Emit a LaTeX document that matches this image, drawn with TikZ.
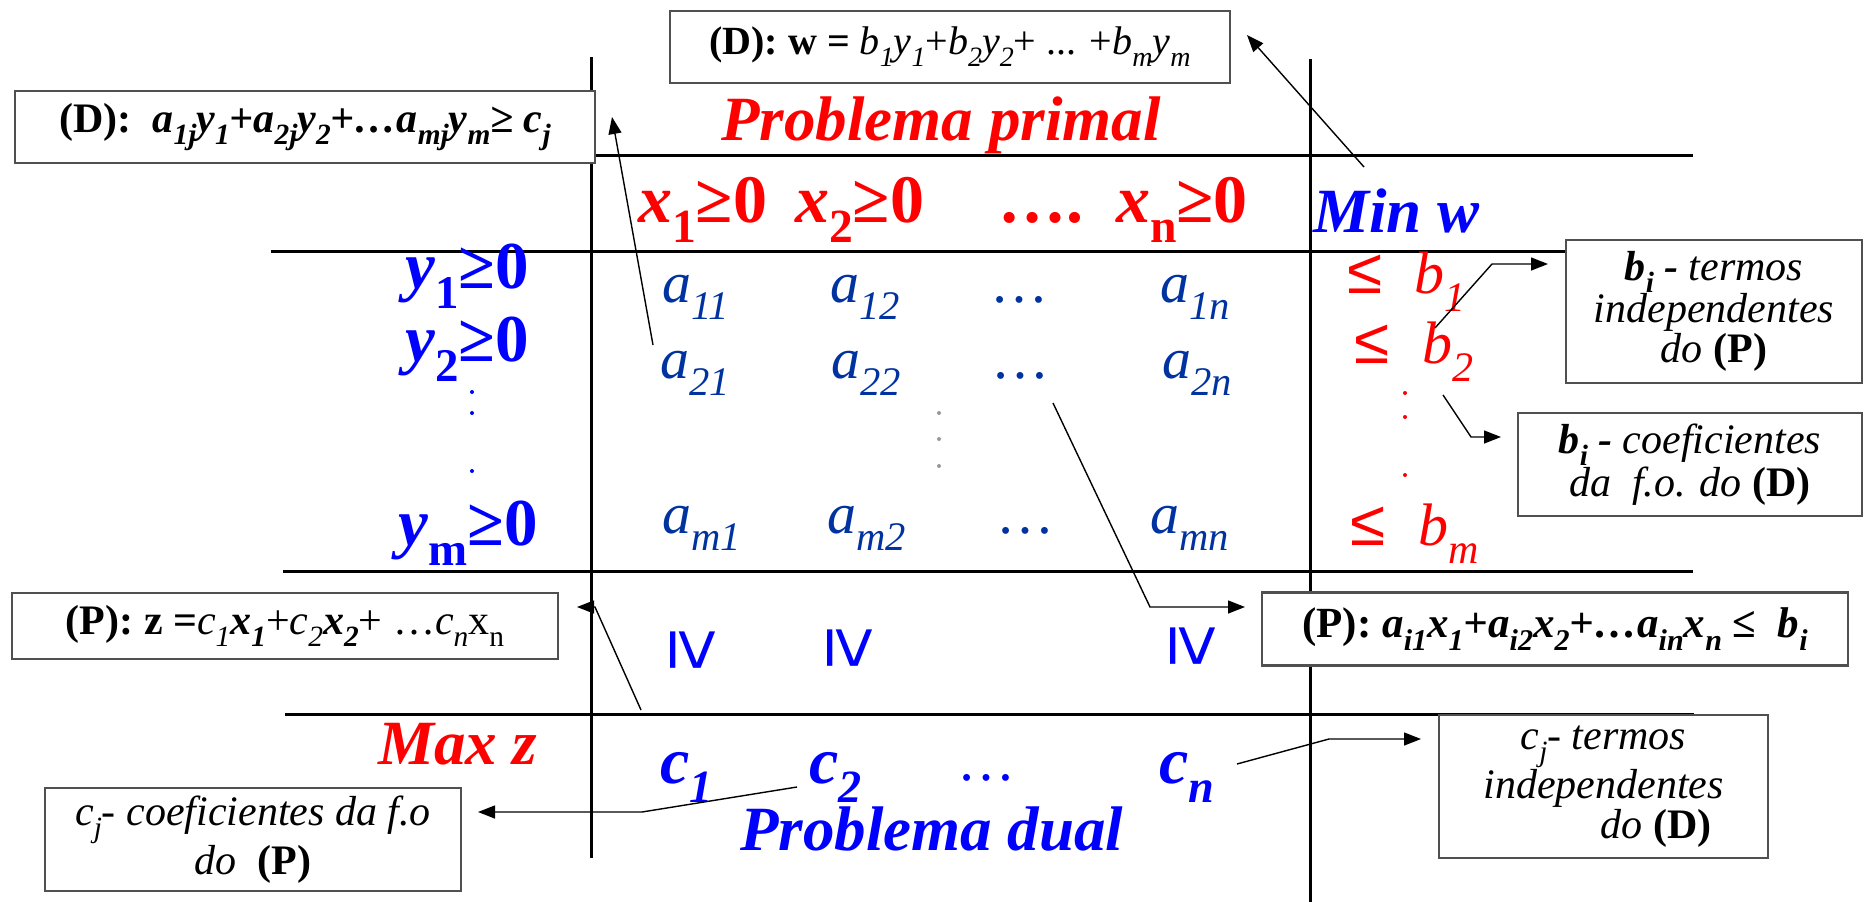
\documentclass[tikz,border=0pt]{standalone}
\usepackage{fontspec}
\setmainfont{LiberationSerif}[Extension=.ttf,UprightFont=*-Regular,ItalicFont=*-Italic,BoldFont=*-Bold,BoldItalicFont=*-BoldItalic]
\newfontfamily\sansf{Liberation Sans}
\usetikzlibrary{arrows.meta}
\definecolor{pr}{RGB}{255,0,0}
\definecolor{pb}{RGB}{0,0,255}
\definecolor{pa}{RGB}{0,51,160}
\definecolor{bx}{RGB}{80,80,80}
\newcommand\lo[1]{\raisebox{-0.3em}{\scalebox{0.7}{#1}}}
\newcommand\fs[1]{\fontsize{#1}{#1}\selectfont}
\begin{document}
\begin{tikzpicture}[x=1pt,y=-1pt,
  gridline/.style={line width=3pt,black},
  conn/.style={line width=1.4pt,black,-{Triangle[length=17pt,width=13pt]}},
  lbl/.style={inner sep=0pt,outer sep=0pt,anchor=base west},
  bigr/.style={lbl,text=pr,font=\fs{63}\bfseries\itshape},
  bigb/.style={lbl,text=pb,font=\fs{63}\bfseries\itshape},
  hdr/.style={lbl,text=pr,font=\fs{68}\bfseries},
  ylab/.style={inner sep=0pt,anchor=base,text=pb,font=\fs{67}\bfseries},
  aent/.style={lbl,text=pa,font=\fs{58}\itshape},
  adot/.style={lbl,text=pa,font=\fs{58}},
  leq/.style={lbl,text=pr,font=\sansf\fs{64}},
  bent/.style={lbl,text=pr,font=\fs{60}\itshape},
  cent/.style={lbl,text=pb,font=\fs{66}\bfseries\itshape},
  geqrot/.style={inner sep=0pt,rotate=-90,text=pb,font=\sansf\fs{75}},
  infobox/.style={draw=bx,line width=2.2pt,inner sep=0pt,align=center,fill=white,
    font=\fontsize{42}{40}\selectfont},
  eqbox/.style={draw=bx,line width=2.2pt,inner sep=0pt,align=center,fill=white,
    font=\fs{40}},
  vdot/.style={circle,inner sep=0pt,minimum size=4pt}
]
\useasboundingbox (0,0) rectangle (1864,902);

% grid lines
\draw[gridline] (591,57) -- (591,858);
\draw[gridline] (1310,59) -- (1310,902);
\draw[gridline] (591,155) -- (1693,155);
\draw[gridline] (271,251) -- (1566,251);
\draw[gridline] (283,571) -- (1693,571);
\draw[gridline] (285,714) -- (1694,714);

% boxes
\node[eqbox,minimum width=560pt,minimum height=72pt] (topbox) at (950,47)
  {{\bfseries (D): w =} {\itshape b\lo{1}y\lo{1}}+{\itshape b\lo{2}y\lo{2}}+ ... +{\itshape b\lo{m}y\lo{m}}};
\node[eqbox,font=\fs{42},minimum width=580pt,minimum height=72pt] (leftbox) at (305,127)
  {{\bfseries (D):\ \ \itshape a\lo{1j}y\lo{1}+a\lo{2j}y\lo{2}+\ldots a\lo{mj}y\lo{m}≥ c\lo{j}}};
\node[eqbox,font=\fs{42},minimum width=546pt,minimum height=66pt] (pzbox) at (285,626)
  {{\bfseries (P): z =}{\itshape c\lo{1}}{\bfseries\itshape x\lo{1}}+{\itshape c\lo{2}}{\bfseries\itshape x\lo{2}}+ \ldots{\itshape c\lo{n}}x\lo{n}};
\node[eqbox,font=\fs{43},minimum width=586pt,minimum height=73pt] (pabox) at (1555,629)
  {{\bfseries (P): \itshape a\lo{i1}x\lo{1}+a\lo{i2}x\lo{2}+\ldots a\lo{in}x\lo{n} {\upshape ≤}\ \ b\lo{i}}};
\node[infobox,minimum width=296pt,minimum height=143pt] (btbox) at (1714,311.5)
  {{\bfseries\itshape b\lo{i} -} {\itshape termos}\\{\itshape independentes}\\{\itshape do} {\bfseries (P)}};
\node[infobox,minimum width=344pt,minimum height=103pt] (bcbox) at (1690,464.5)
  {{\bfseries\itshape b\lo{i} -} {\itshape coeficientes}\\{\itshape da\ \ f.o. do} {\bfseries (D)}};
\node[infobox,minimum width=416pt,minimum height=103pt] (ccbox) at (253,839.5)
  {{\itshape c\lo{j}- coeficientes da f.o}\\{\itshape do}\ \ {\bfseries (P)}};
\node[infobox,minimum width=329pt,minimum height=143pt] (ctbox) at (1603.5,786.5)
  {{\itshape c\lo{j}- termos}\\{\itshape independentes}\\\hspace*{2.5em}{\itshape do} {\bfseries (D)}};

% titles
\node[bigr,anchor=base] (primal) at (941,140) {Problema primal};
\node[bigb] (dual) at (740,850) {Problema dual};
\node[bigr] (maxz) at (378,764) {Max z};
\node[bigb] (minw) at (1313,232) {Min w};

% header x
\node[hdr] (x1) at (638,222) {{\itshape x}\lo{1}≥0};
\node[hdr] (x2) at (795,222) {{\itshape x}\lo{2}≥0};
\node[hdr] (xd) at (998,222) {\ldots.};
\node[hdr] (xn) at (1116,222) {{\itshape x}\lo{n}≥0};

% y labels
\node[ylab] (y1) at (467,288) {{\itshape y}\lo{1}≥0};
\node[ylab] (y2) at (467,361) {{\itshape y}\lo{2}≥0};
\node[ylab] (ym) at (468,545) {{\itshape y}\lo{m}≥0};
\node[vdot,fill=pb] (yd1) at (472,392) {};
\node[vdot,fill=pb] (yd2) at (472,413) {};
\node[vdot,fill=pb] (yd3) at (472,471) {};

% matrix
\node[aent] (a11) at (662,302) {a\lo{11}};
\node[aent] (a12) at (830,302) {a\lo{12}};
\node[adot] (a1d) at (990,302) {\ldots};
\node[aent] (a1n) at (1160,302) {a\lo{1n}};
\node[aent] (a21) at (660,378) {a\lo{21}};
\node[aent] (a22) at (831,378) {a\lo{22}};
\node[adot] (a2d) at (991,378) {\ldots};
\node[aent] (a2n) at (1162,378) {a\lo{2n}};
\node[aent] (am1) at (662,533) {a\lo{m1}};
\node[aent] (am2) at (827,533) {a\lo{m2}};
\node[adot] (amd) at (996,533) {\ldots};
\node[aent] (amn) at (1150,533) {a\lo{mn}};
\node[vdot,fill=gray!80,minimum size=4pt] (vd1) at (939,413) {};
\node[vdot,fill=gray!80,minimum size=4pt] (vd2) at (939,439) {};
\node[vdot,fill=gray!80,minimum size=4pt] (vd3) at (939,466) {};

% right column
\node[leq] (l1) at (1347,293) {≤};
\node[bent] (b1) at (1414,293) {b\lo{1}};
\node[leq] (l2) at (1354,363) {≤};
\node[bent] (b2) at (1422,363) {b\lo{2}};
\node[leq] (lm) at (1350,545) {≤};
\node[bent] (bm) at (1418,545) {b\lo{m}};
\node[vdot,fill=pr,minimum size=4pt] (bd1) at (1405,393) {};
\node[vdot,fill=pr,minimum size=4pt] (bd2) at (1405,417) {};
\node[vdot,fill=pr,minimum size=4pt] (bd3) at (1405,475) {};

% rotated geq row
\node[geqrot] (g1) at (693,650) {≥};
\node[geqrot] (g2) at (850,648) {≥};
\node[geqrot] (g3) at (1193,646) {≥};

% c row
\node[cent] (c1) at (660,783) {c\lo{1}};
\node[cent] (c2) at (809,783) {c\lo{2}};
\node[lbl,text=pb,font=\fs{58}] (cd) at (957,780) {\ldots};
\node[cent] (cn) at (1159,783) {c\lo{n}};

% connector coordinates
\coordinate (s1) at (653,345); \coordinate (t1) at (612,117);
\coordinate (s2) at (1364,167); \coordinate (t2) at (1247,35);
\coordinate (s3) at (1435,328); \coordinate (k3) at (1492,264); \coordinate (t3) at (1548,264);
\coordinate (s4) at (1443,395); \coordinate (k4) at (1471,437); \coordinate (t4) at (1501,437);
\coordinate (s5) at (1053,403); \coordinate (k5) at (1150,607); \coordinate (t5) at (1245,607);
\coordinate (s6) at (641,710); \coordinate (k6) at (595,607); \coordinate (t6) at (577,607);
\coordinate (s7) at (797,787); \coordinate (k7) at (642,812); \coordinate (t7) at (478,812);
\coordinate (s8) at (1237,764); \coordinate (k8) at (1329,739); \coordinate (t8) at (1421,739);

\draw[conn] (s1) -- (t1);
\draw[conn] (s2) -- (t2);
\draw[conn] (s3) -- (k3) -- (t3);
\draw[conn] (s4) -- (k4) -- (t4);
\draw[conn] (s5) -- (k5) -- (t5);
\draw[conn] (s6) -- (k6) -- (t6);
\draw[conn] (s7) -- (k7) -- (t7);
\draw[conn] (s8) -- (k8) -- (t8);
\end{tikzpicture}
\end{document}
